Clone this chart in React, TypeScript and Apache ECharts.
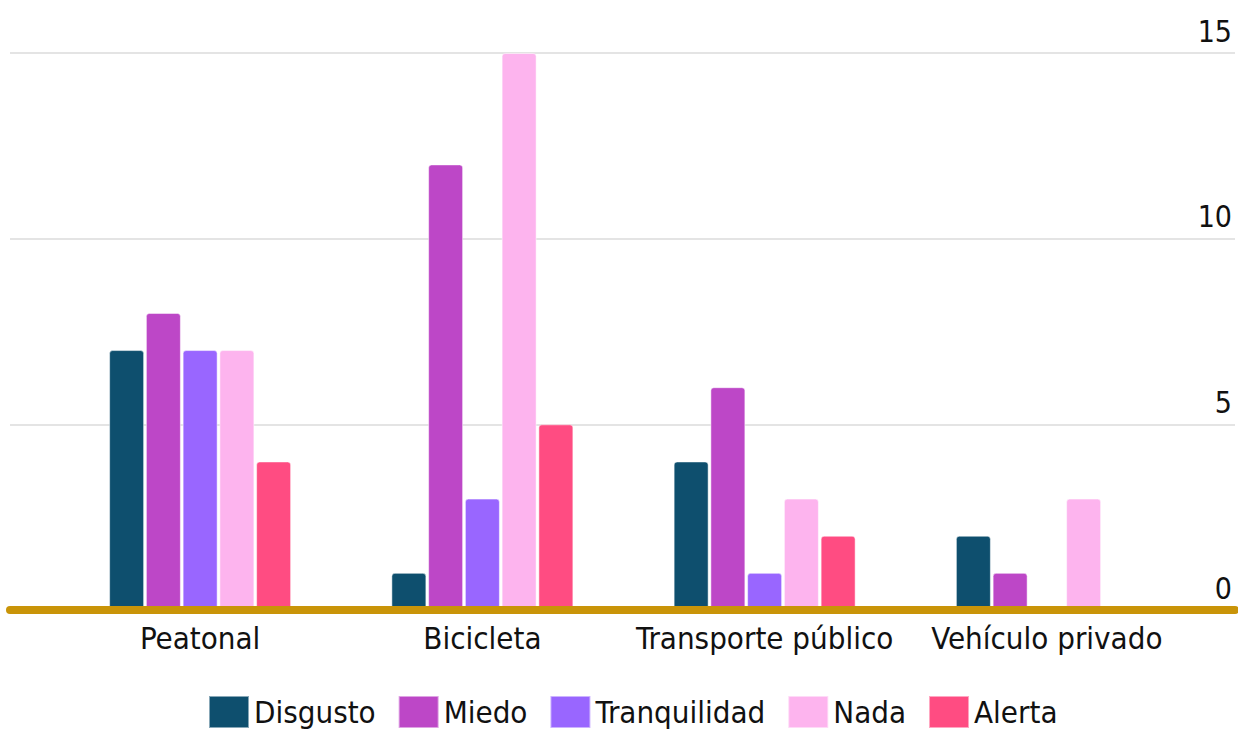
import React, { useEffect, useRef } from "react";
import * as echarts from "echarts";

const categories = ["Peatonal", "Bicicleta", "Transporte público", "Vehículo privado"];
const seriesNames = ["Disgusto", "Miedo", "Tranquilidad", "Nada", "Alerta"];
const disgusto = [7, 1, 4, 2];
const miedo = [8, 12, 6, 1];
const tranquilidad = [7, 3, 1, 0];
const nada = [7, 15, 3, 3];
const alerta = [4, 5, 2, 0];
const yTicks = [0, 5, 10, 15];

const colors = ["#0E4F6E", "#BD47C7", "#9966FF", "#FDB4EE", "#FF4C82"];
const FONT = "'DejaVu Sans Condensed', 'DejaVu Sans', sans-serif";

export default function App() {
  const ref = useRef<HTMLDivElement>(null);
  useEffect(() => {
    if (!ref.current) return;
    const chart = echarts.init(ref.current, undefined, { renderer: "svg" });
    const values = [disgusto, miedo, tranquilidad, nada, alerta];
    chart.setOption({
      animation: false,
      textStyle: { fontFamily: FONT },
      legend: {
        data: seriesNames,
        left: 208,
        top: 695,
        padding: 0,
        itemWidth: 40,
        itemHeight: 32,
        itemGap: 22,
        icon: "rect",
        textStyle: { fontSize: 31, lineHeight: 32, color: "#111", fontFamily: FONT },
      },
      grid: [
        { left: 10, right: 3, top: 53, bottom: 119, containLabel: false },
        { left: 59, width: 1129, top: 53, bottom: 119, containLabel: false },
      ],
      xAxis: [
        {
          gridIndex: 0,
          type: "category",
          data: [""],
          z: 5,
          axisLine: { show: true, lineStyle: { color: "#C99408", width: 8 } },
          axisTick: { show: false },
          axisLabel: { show: false },
        },
        {
          gridIndex: 1,
          type: "category",
          data: categories,
          axisLine: { show: false },
          axisTick: { show: false },
          axisLabel: { interval: 0, fontSize: 31, color: "#111", margin: 12, fontFamily: FONT },
        },
      ],
      yAxis: [
        {
          gridIndex: 0,
          type: "value",
          position: "right",
          min: yTicks[0],
          max: yTicks[yTicks.length - 1],
          interval: 5,
          axisLine: { show: false },
          axisTick: { show: false },
          splitLine: { lineStyle: { color: "#E4E4E4", width: 2 } },
          axisLabel: {
            inside: true,
            margin: 3,
            fontSize: 30,
            color: "#111",
            verticalAlign: "bottom",
            padding: [0, 0, 7, 0],
            fontFamily: FONT,
          },
        },
        {
          gridIndex: 1,
          type: "value",
          min: yTicks[0],
          max: yTicks[yTicks.length - 1],
          interval: 5,
          show: false,
        },
      ],
      series: seriesNames.map((name, i) => ({
        name,
        type: "bar",
        xAxisIndex: 1,
        yAxisIndex: 1,
        data: values[i],
        barWidth: 35,
        barGap: "5%",
        itemStyle: {
          color: colors[i],
          borderRadius: [3, 3, 0, 0],
          borderColor: "rgba(255,255,255,0.5)",
          borderWidth: 1,
        },
      })),
    });
    return () => chart.dispose();
  }, []);
  return (
    <div
      ref={ref}
      style={{ position: "fixed", left: 0, top: 0, width: 1238, height: 729, background: "#fff" }}
    />
  );
}
